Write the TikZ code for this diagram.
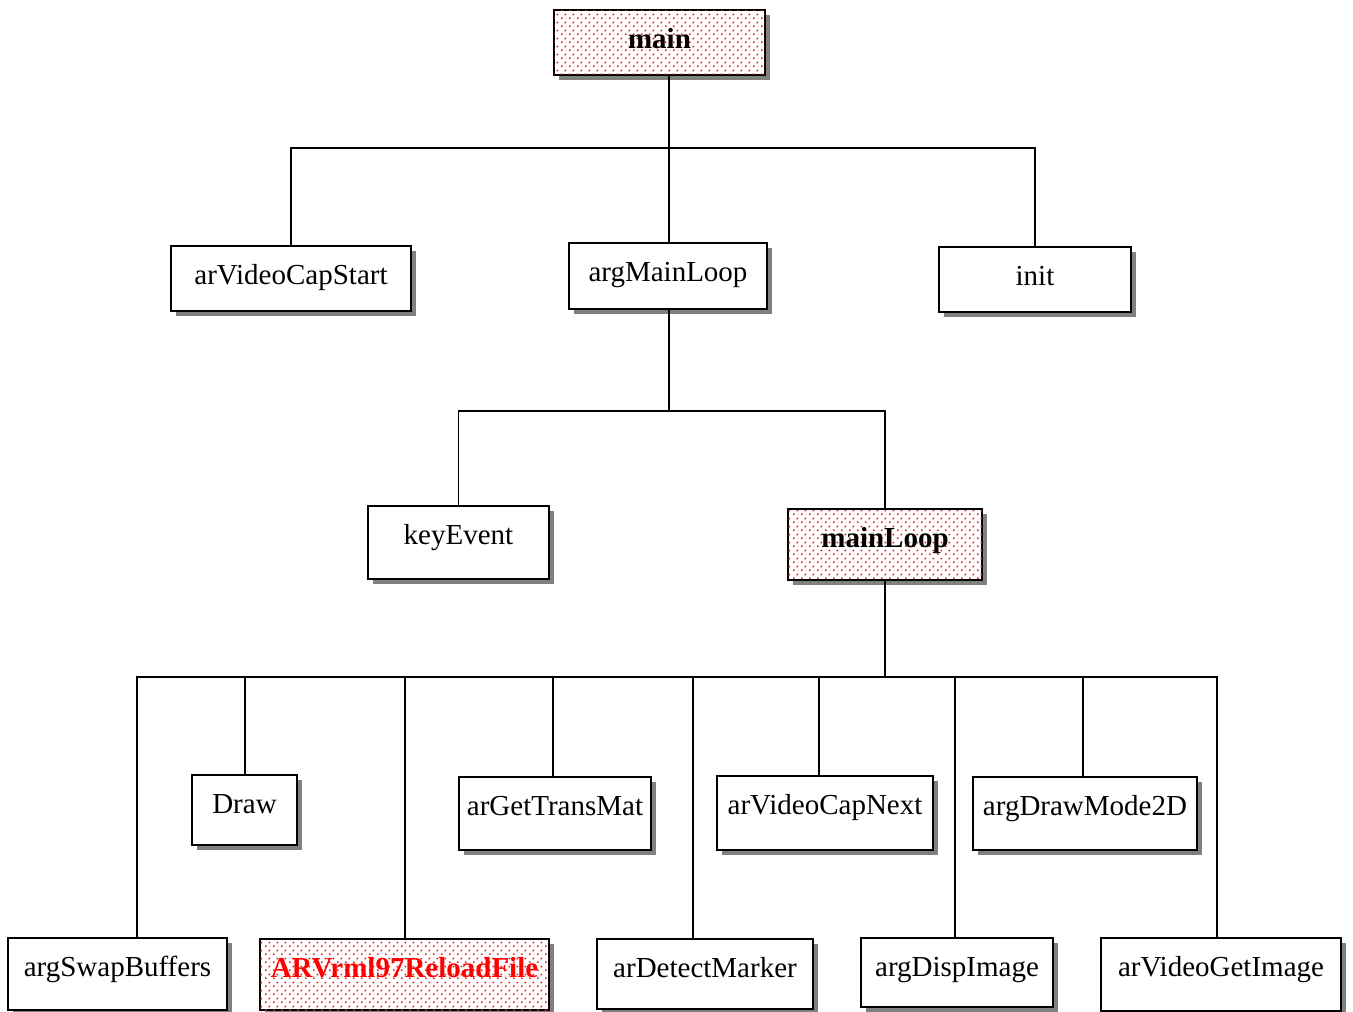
\documentclass[tikz,border=0pt]{standalone}
\usepackage{fontspec}
\setmainfont{Liberation Serif}
\usetikzlibrary{shadows,patterns}

% staggered red dots used to highlight boxes
\pgfdeclarepatternformonly{reddots}{\pgfpointorigin}{\pgfpoint{8pt}{8pt}}{\pgfpoint{8pt}{8pt}}{%
  \pgfpathcircle{\pgfpoint{2pt}{2pt}}{1.15pt}%
  \pgfpathcircle{\pgfpoint{6pt}{6pt}}{1.15pt}%
  \pgfusepath{fill}}

\tikzset{
  box/.style={draw=black, line width=2pt, fill=white, inner sep=0pt, outer sep=0pt,
    font=\fontsize{29}{34}\selectfont,
    drop shadow={shadow xshift=5pt, shadow yshift=-5pt, fill=black!50, opacity=1}},
  hot/.style={postaction={pattern=reddots, pattern color=red!90}, font=\fontsize{29}{34}\selectfont\bfseries},
  wire/.style={line width=1.8pt, line cap=rect},
}

% \fbx{name}{left}{top}{right}{bottom}{style}{label}
\newcommand\fbx[7]{%
  \pgfmathsetmacro\bxw{#4-#2}%
  \pgfmathsetmacro\bxh{#5-#3}%
  \pgfmathsetmacro\bxd{#5-#3-38}%
  \pgfmathsetmacro\bxx{(#2+#4)/2}%
  \pgfmathsetmacro\bxy{(#3+#5)/2}%
  \node[box,#6, minimum width=\bxw pt, minimum height=\bxh pt,
        text height=38pt, text depth=\bxd pt] (#1) at (\bxx,\bxy) {#7};%
}

\begin{document}
\begin{tikzpicture}[x=1pt,y=-1pt]
\useasboundingbox[fill=white] (0,0) rectangle (1353,1012);

% boxes
\fbx{main}{554}{10}{765}{75}{hot}{main}
\fbx{vcs}{171}{246}{411}{311}{}{arVideoCapStart}
\fbx{aml}{569}{243}{767}{309}{}{argMainLoop}
\fbx{init}{939}{247}{1131}{312}{}{init}
\fbx{key}{368}{506}{549}{579}{}{keyEvent}
\fbx{ml}{788}{509}{982}{580}{hot}{mainLoop}
\fbx{draw}{192}{775}{297}{845}{}{Draw}
\fbx{gtm}{459}{777}{651}{850}{}{arGetTransMat}
\fbx{vcn}{717}{776}{933}{850}{}{arVideoCapNext}
\fbx{dm2}{973}{777}{1197}{850}{}{argDrawMode2D}
\fbx{swb}{8}{938}{227}{1010}{}{argSwapBuffers}
\fbx{vrml}{260}{939}{549}{1010}{hot,text=red}{ARVrml97ReloadFile}
\fbx{det}{597}{939}{813}{1009}{}{arDetectMarker}
\fbx{disp}{861}{938}{1053}{1007}{}{argDispImage}
\fbx{vgi}{1101}{938}{1341}{1011}{}{arVideoGetImage}

% level 1: main
\coordinate (j1) at (669,148);
\draw[wire] (main.south -| j1) -- (j1);
\draw[wire] (vcs.north) -- (vcs.north |- j1) -- (init.north |- j1) -- (init.north);
\draw[wire] (j1) -- (j1 |- aml.north);

% level 2: argMainLoop
\coordinate (j2) at (669,411);
\draw[wire] (aml.south -| j2) -- (j2);
\draw[wire] (key.north) -- (key.north |- j2) -- (ml.north |- j2) -- (ml.north);

% level 3: mainLoop
\coordinate (j3) at (885,677);
\draw[wire] (ml.south) -- (j3);
\coordinate (t1) at (137,677);
\coordinate (t2) at (245,677);
\coordinate (t3) at (405,677);
\coordinate (t4) at (553,677);
\coordinate (t5) at (693,677);
\coordinate (t6) at (819,677);
\coordinate (t7) at (955,677);
\coordinate (t8) at (1083,677);
\coordinate (t9) at (1217,677);
\draw[wire] (t1) -- (t9);
\draw[wire] (t1) -- (t1 |- swb.north);
\draw[wire] (t2) -- (t2 |- draw.north);
\draw[wire] (t3) -- (t3 |- vrml.north);
\draw[wire] (t4) -- (t4 |- gtm.north);
\draw[wire] (t5) -- (t5 |- det.north);
\draw[wire] (t6) -- (t6 |- vcn.north);
\draw[wire] (t7) -- (t7 |- disp.north);
\draw[wire] (t8) -- (t8 |- dm2.north);
\draw[wire] (t9) -- (t9 |- vgi.north);
\end{tikzpicture}
\end{document}
